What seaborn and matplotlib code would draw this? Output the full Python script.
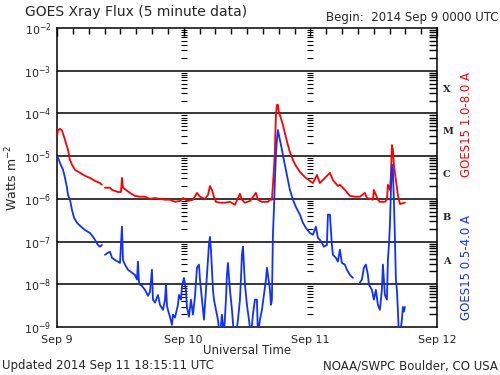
import numpy as np
import pandas as pd
import matplotlib
matplotlib.use("Agg")
import matplotlib.pyplot as plt
import seaborn as sns

# ---- data: hours since 2014 Sep 9 00:00 UTC, log10 flux (W m^-2); NaN marks a data gap
long_hours = [0.0, 0.19, 0.57, 0.95, 1.52, 2.08, 2.46, 2.84, 3.41, 4.36, 5.30, 6.25, 7.20, 8.14, 8.52, np.nan,
              9.09, 10.04, 10.42, 11.55, 12.12, 12.31, 12.50, 13.83, 14.77, 15.72, 16.67, 17.62, 18.56, 19.51,
              20.46, 21.40, 22.35, 23.30, 23.87, 24.81, 25.76, 26.52, 27.09, 28.03, 28.60, 28.98, 29.36, 29.74,
              30.12, 30.87, 31.82, 32.77, 33.72, 34.66, 35.04, 35.61, 36.56, 37.69, 38.07, 38.83, 39.97, 40.35,
              40.72, 40.91, 41.10, 41.29, 41.48, 41.67, 41.86, 42.05, 42.43, 42.81, 43.18, 43.75, 44.13, 44.70,
              45.27, 46.03, 46.97, 47.92, 48.49, 49.25, 49.81, 50.38, 51.71, 52.28, 53.23, 53.60, 54.55, 55.50,
              56.45, 57.39, 58.34, 58.72, 59.86, 60.04, 60.80, 61.18, 62.13, 62.51, 62.70, 63.08, 63.27, 63.46,
              63.64, 63.83, 64.21, 64.59, 64.97, 65.92]
long_log = [-4.55, -4.40, -4.36, -4.40, -4.62, -4.85, -5.09, -5.20, -5.32, -5.39, -5.46, -5.51, -5.58, -5.63, -5.67, np.nan,
            -5.74, -5.74, -5.79, -5.84, -5.84, -5.51, -5.74, -5.86, -5.93, -5.95, -5.95, -6.00, -5.98, -6.00,
            -6.02, -6.02, -6.07, -6.05, -5.98, -6.05, -6.02, -5.86, -5.95, -6.00, -5.91, -5.70, -5.79, -5.95,
            -6.07, -6.09, -6.09, -6.07, -6.14, -5.88, -6.02, -6.09, -6.05, -5.86, -6.02, -6.07, -6.07, -6.02,
            -6.02, -5.67, -5.32, -4.85, -4.04, -3.80, -3.80, -3.97, -4.11, -4.27, -4.46, -4.74, -4.90, -5.09,
            -5.23, -5.37, -5.49, -5.58, -5.63, -5.44, -5.63, -5.56, -5.39, -5.56, -5.70, -5.67, -5.79, -5.93,
            -5.95, -5.95, -5.86, -5.98, -6.02, -5.79, -6.02, -6.07, -6.07, -6.02, -5.67, -5.79, -5.44, -4.74,
            -4.85, -5.20, -5.56, -5.91, -6.12, -6.09]

short_hours = [0.0, 0.19, 0.57, 1.14, 1.52, 1.89, 2.08, 2.46, 2.84, 3.22, 3.79, 4.36, 5.30, 6.25, 6.82, 7.20, 7.77, 8.14, 8.52, np.nan,
               9.09, 9.66, 10.04, 10.42, 10.99, 11.55, 11.93, 12.31, 12.50, 12.88, 13.45, 14.21, 14.77, 15.15, 15.34,
               15.53, 15.72, 16.10, 16.67, 17.24, 17.62, 17.99, 18.18, 18.56, 19.13, 19.51, 20.08, 20.46, 20.65,
               20.84, 21.02, 21.40, 21.78, 21.97, 22.35, 22.92, 23.11, 23.49, 23.68, 24.06, 24.43, 24.62, 25.00,
               25.38, 25.76, 26.14, 26.52, 26.90, 27.09, 27.47, 27.85, 28.22, 28.60, 28.79, 28.98, 29.17, 29.36,
               29.55, 29.74, 30.12, 30.49, 30.87, 31.25, 31.63, 32.01, 32.20, 32.39, 32.77, 33.15, 33.53, 33.91,
               34.29, 34.66, 34.85, 35.04, 35.23, 35.42, 35.61, 35.99, 36.37, 36.75, 37.12, 37.50, 37.88, 38.07,
               38.45, 38.83, 39.21, 39.59, 39.78, 39.97, 40.35, 40.54, 40.72, 40.91, 41.10, 41.29, 41.48, 41.67,
               41.86, 42.05, 42.24, 42.62, 42.99, 43.37, 43.75, 44.13, 44.70, 45.27, 46.03, 46.59, 47.16, 47.92,
               48.49, 49.06, 49.43, 49.81, 50.19, 50.57, 51.14, 51.33, 51.71, 52.09, 52.28, 52.84, 53.23, 53.60,
               53.98, 54.55, 54.93, 55.50, 56.07, np.nan, 57.39, 57.77, 58.15, 58.53, 58.91, 59.10, 59.67, 60.04,
               60.42, 60.80, 61.18, 61.56, 61.75, 62.13, 62.51, 62.70, 62.89, 63.08, 63.27, 63.46, 63.64, 63.83,
               64.02, 64.21, 64.40, 64.59, 64.78, 64.97, 65.35, 65.54, 65.73, 65.92]
short_log = [-5.02, -5.04, -5.16, -5.32, -5.51, -5.74, -5.91, -6.02, -6.26, -6.44, -6.56, -6.63, -6.73, -6.80, -6.89, -6.96, -7.08, -7.12, -7.08, np.nan,
             -7.31, -7.26, -7.24, -7.38, -7.43, -7.47, -7.50, -6.65, -7.43, -7.54, -7.66, -7.73, -7.78, -7.89, -7.47,
             -7.94, -8.01, -8.04, -8.13, -8.27, -8.18, -7.66, -8.36, -8.43, -8.25, -8.48, -8.60, -8.36, -8.01,
             -8.50, -8.60, -8.76, -8.95, -8.71, -8.78, -8.48, -8.25, -8.36, -8.04, -7.85, -8.13, -8.53, -8.76,
             -8.36, -8.71, -8.29, -7.61, -7.54, -7.89, -8.36, -8.83, -8.13, -7.43, -7.08, -6.89, -7.19, -7.66,
             -8.13, -8.36, -8.60, -8.83, -9.20, -8.71, -9.20, -8.36, -7.78, -7.50, -8.13, -8.60, -9.20, -9.20,
             -8.83, -8.36, -7.89, -7.31, -7.12, -7.54, -8.01, -8.48, -8.83, -9.20, -8.71, -8.36, -8.36, -9.20,
             -8.83, -8.60, -8.25, -7.89, -7.61, -7.78, -8.13, -8.48, -8.36, -6.84, -6.26, -5.56, -4.97, -4.62,
             -4.39, -4.50, -4.62, -4.85, -5.09, -5.32, -5.56, -5.79, -6.02, -6.19, -6.37, -6.56, -6.68, -6.80,
             -6.84, -6.65, -6.91, -6.96, -7.03, -7.12, -7.08, -6.37, -6.37, -7.08, -7.31, -7.38, -7.47, -7.19,
             -7.50, -7.54, -7.66, -7.78, -7.85, np.nan, -7.96, -7.89, -7.61, -7.54, -7.78, -8.01, -8.13, -8.36,
             -8.13, -8.48, -8.60, -8.13, -7.54, -8.25, -8.36, -7.43, -7.08, -6.61, -5.79, -5.20, -5.32, -6.02,
             -6.89, -7.89, -8.13, -8.60, -9.20, -9.20, -8.83, -8.53, -8.64, -8.53]

day_ticks = [0, 24, 48, 72]
day_labels = ["Sep 9", "Sep 10", "Sep 11", "Sep 12"]
decades = [-2, -3, -4, -5, -6, -7, -8, -9]
class_letters = ["X", "M", "C", "B", "A"]
class_pos = [-3.45, -4.43, -5.44, -6.44, -7.47]


def to_frame(hours, logs, name):
    h = np.array(hours, dtype=float)
    lg = np.array(logs, dtype=float)
    seg = np.cumsum(np.isnan(h))
    df = pd.DataFrame({"hours": h, "flux": 10.0 ** lg, "seg": seg, "channel": name})
    return df.dropna()


df = pd.concat([to_frame(long_hours, long_log, "long"),
                to_frame(short_hours, short_log, "short")], ignore_index=True)

sns.set_style("white")
plt.rcParams["font.family"] = ["DejaVu Sans"]

fig = plt.figure(figsize=(5, 3.75), dpi=100)
ax = fig.add_axes([57 / 500, 1 - 327 / 375, 380 / 500, 299 / 375])
ax.set_yscale("log")

# decade grid lines
for d in decades[1:-1]:
    ax.axhline(10.0 ** d, color="black", lw=1.1, zorder=1)

# minor-tick marks at day boundaries
minor_y = [m * 10.0 ** d for d in range(-9, -2) for m in range(2, 10)]
for day in day_ticks[1:3]:
    ax.plot([day] * len(minor_y), minor_y, ls="none", marker="_", ms=4, mew=0.8, color="black", zorder=1)

palette = {"long": "#ff0000", "short": "#1030ff"}
sns.lineplot(data=df, x="hours", y="flux", hue="channel", units="seg", estimator=None,
             palette=palette, lw=1.3, legend=False, ax=ax, zorder=3)

ax.set_xlim(0, 72)
ax.set_ylim(1e-9, 1e-2)
ax.set_xlabel("")
ax.set_ylabel("")

ax.set_xticks(day_ticks)
ax.set_xticklabels(day_labels, fontsize=8)
ax.set_xticks(np.arange(0, 73, 3), minor=True)
ax.set_yticks([10.0 ** d for d in decades])
ax.set_yticklabels([r"$10^{%d}$" % d for d in decades], fontsize=8)
ax.tick_params(axis="both", which="both", direction="in", top=True, right=True, color="black")
ax.tick_params(axis="x", which="major", length=6, width=1, pad=6)
ax.tick_params(axis="x", which="minor", length=4, width=1)
ax.tick_params(axis="y", which="major", length=0, pad=4)
ax.tick_params(axis="y", which="minor", length=6, width=1)
for s in ax.spines.values():
    s.set_color("black")
    s.set_linewidth(1.1)

# class letters on the right
for letter, pos in zip(class_letters, class_pos):
    ax.text(1.015, 10.0 ** pos, letter, transform=ax.get_yaxis_transform(), fontsize=7,
            fontweight="bold", family="DejaVu Serif", va="center", ha="left")

fig.text(467 / 500, 1 - 125 / 375, "GOES15 1.0-8.0 A", rotation=90, color="#ff0000",
         fontsize=8.5, ha="center", va="center")
fig.text(467 / 500, 1 - 268 / 375, "GOES15 0.5-4.0 A", rotation=90, color="#1030ff",
         fontsize=8.5, ha="center", va="center")

fig.text(12 / 500, 1 - 178 / 375, r"Watts m$^{-2}$", rotation=90, fontsize=9, ha="center", va="center")
fig.text(25 / 500, 1 - 12 / 375, "GOES Xray Flux (5 minute data)", fontsize=10, ha="left", va="center")
fig.text(498 / 500, 1 - 18 / 375, "Begin:  2014 Sep 9 0000 UTC", fontsize=8.5, ha="right", va="center")
fig.text(247 / 500, 1 - 351 / 375, "Universal Time", fontsize=8.5, ha="center", va="center")
fig.text(2 / 500, 1 - 366 / 375, "Updated 2014 Sep 11 18:15:11 UTC", fontsize=8.5, ha="left", va="center")
fig.text(498 / 500, 1 - 366 / 375, "NOAA/SWPC Boulder, CO USA", fontsize=8.5, ha="right", va="center")

fig.savefig("out.png", dpi=100)
